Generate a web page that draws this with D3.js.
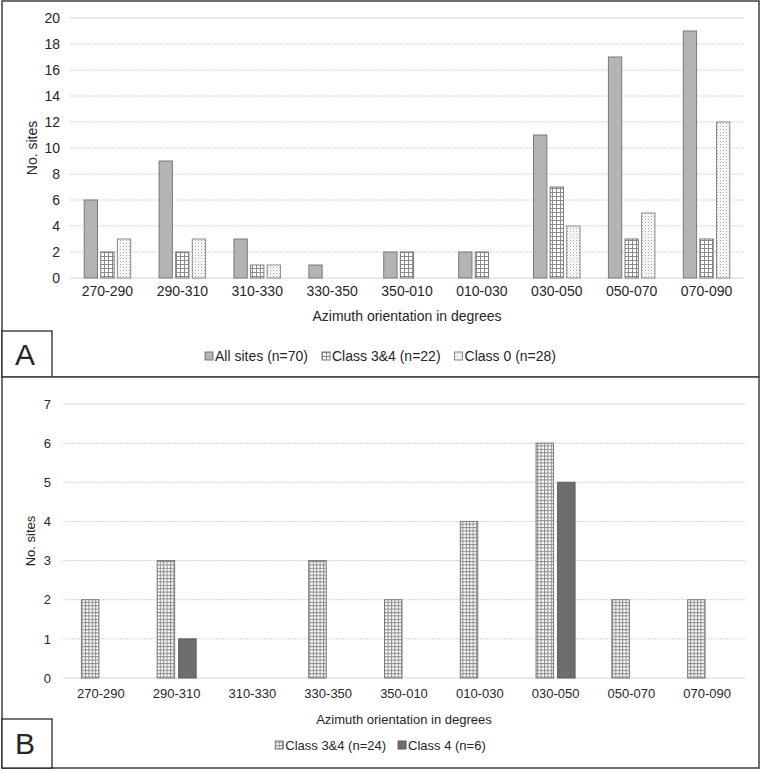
<!DOCTYPE html>
<html>
<head>
<meta charset="utf-8">
<script src="https://cdn.jsdelivr.net/npm/d3@7"></script>
<style>
  body { margin: 0; background: #fff; }
  text { font-family: "Liberation Sans", Arial, sans-serif; fill: #262626; }
</style>
</head>
<body>
<script>
var categories = ["270-290", "290-310", "310-330", "330-350", "350-010", "010-030", "030-050", "050-070", "070-090"];

// panel A
var allSites = [6, 9, 3, 1, 2, 2, 11, 17, 19];
var classA34 = [2, 2, 1, 0, 2, 2, 7, 3, 3];
var class0 = [3, 3, 1, 0, 0, 0, 4, 5, 12];
var namesA = ["All sites (n=70)", "Class 3&4 (n=22)", "Class 0 (n=28)"];
var ticksA = [0, 2, 4, 6, 8, 10, 12, 14, 16, 18, 20];

// panel B
var classB34 = [2, 3, 0, 3, 2, 4, 6, 2, 2];
var class4 = [0, 1, 0, 0, 0, 0, 5, 0, 0];
var namesB = ["Class 3&4 (n=24)", "Class 4 (n=6)"];
var ticksB = [0, 1, 2, 3, 4, 5, 6, 7];

var svg = d3.select("body").append("svg")
  .attr("width", 762).attr("height", 770);

var defs = svg.append("defs");

function gridPattern(id, size) {
  var p = defs.append("pattern").attr("id", id)
    .attr("patternUnits", "userSpaceOnUse")
    .attr("width", size).attr("height", size);
  p.append("rect").attr("width", size).attr("height", size).attr("fill", "#fff");
  p.append("path").attr("d", "M0,0.5H" + size + "M0.5,0V" + size)
    .attr("stroke", "#8c8c8c").attr("stroke-width", 1);
}
gridPattern("gridA", 4);
gridPattern("gridB", 3.4);

var dots = defs.append("pattern").attr("id", "dots")
  .attr("patternUnits", "userSpaceOnUse").attr("width", 3).attr("height", 3);
dots.append("rect").attr("width", 3).attr("height", 3).attr("fill", "#fff");
dots.append("rect").attr("x", 0).attr("y", 0).attr("width", 1).attr("height", 1).attr("fill", "#a6a6a6");
dots.append("rect").attr("x", 1.5).attr("y", 1.5).attr("width", 1).attr("height", 1).attr("fill", "#c4c4c4");

function drawPanel(opt) {
  var g = svg.append("g");

  g.append("rect").attr("x", opt.box[0]).attr("y", opt.box[1])
    .attr("width", opt.box[2] - opt.box[0]).attr("height", opt.box[3] - opt.box[1])
    .attr("fill", "#fff").attr("stroke", "#404040").attr("stroke-width", 1.5);

  var x = d3.scaleBand().domain(categories).range([opt.left, opt.right]);
  var y = d3.scaleLinear().domain([0, opt.max]).range([opt.bottom, opt.top]);

  // gridlines
  g.append("g").selectAll("line").data(opt.ticks).enter().append("line")
    .attr("x1", opt.left).attr("x2", opt.right)
    .attr("y1", function(d) { return y(d); }).attr("y2", function(d) { return y(d); })
    .attr("stroke", "#d4d4d4").attr("stroke-width", 1)
    .attr("stroke-dasharray", function(d) { return d == 0 || d == opt.max ? null : "2,1"; });

  var yAxis = d3.axisLeft(y).tickValues(opt.ticks).tickFormat(d3.format("d"))
    .tickSize(0).tickPadding(opt.ypad);
  var ya = g.append("g").attr("transform", "translate(" + opt.left + ",0)").call(yAxis);
  ya.select(".domain").remove();
  ya.selectAll("text").style("font-size", opt.fs + "px").attr("fill", "#262626")
    .attr("font-family", "Liberation Sans, Arial, sans-serif");

  var xAxis = d3.axisBottom(x).tickSize(0).tickPadding(opt.xpad);
  var xa = g.append("g").attr("transform", "translate(0," + opt.bottom + ")").call(xAxis);
  xa.select(".domain").remove();
  xa.selectAll("text").style("font-size", opt.fs + "px").attr("fill", "#262626")
    .attr("font-family", "Liberation Sans, Arial, sans-serif");

  // bars
  var n = opt.series.length;
  var groupW = n * opt.barW + (n - 1) * opt.gap;
  opt.series.forEach(function(s, i) {
    var rows = s.values.map(function(v, j) { return {c: categories[j], v: v}; })
      .filter(function(d) { return d.v > 0; });
    g.append("g").selectAll("rect").data(rows)
      .enter().append("rect")
      .attr("x", function(d) { return x(d.c) + x.bandwidth() / 2 - groupW / 2 + i * (opt.barW + opt.gap); })
      .attr("y", function(d) { return y(d.v); })
      .attr("width", opt.barW)
      .attr("height", function(d) { return y(0) - y(d.v); })
      .attr("fill", s.fill).attr("stroke", s.stroke).attr("stroke-width", 1);
  });

  // y title
  g.append("text")
    .attr("transform", "translate(" + opt.ytitleX + "," + ((opt.top + opt.bottom) / 2) + ") rotate(-90)")
    .attr("text-anchor", "middle").attr("dy", "0.35em")
    .style("font-size", opt.fs + "px").text("No. sites");

  // x title
  g.append("text").attr("x", (opt.left + opt.right) / 2).attr("y", opt.xtitleY)
    .attr("text-anchor", "middle").attr("dy", "0.35em")
    .style("font-size", opt.fs + "px").text("Azimuth orientation in degrees");

  // legend, centred on the panel
  var lg = g.append("g");
  var cx = 0;
  opt.series.forEach(function(s) {
    var it = lg.append("g").attr("transform", "translate(" + cx + ",0)");
    it.append("rect").attr("x", 0).attr("y", -4).attr("width", 8).attr("height", 8)
      .attr("fill", s.fill).attr("stroke", s.stroke).attr("stroke-width", 1);
    var t = it.append("text").attr("x", 10).attr("dy", "0.35em")
      .style("font-size", opt.fs + "px").text(s.name);
    cx += 10 + t.node().getComputedTextLength() + opt.legGap;
  });
  var legW = cx - opt.legGap;
  lg.attr("transform", "translate(" + ((opt.box[0] + opt.box[2]) / 2 - legW / 2) + "," + opt.legY + ")");

  // letter box
  g.append("rect").attr("x", opt.box[0]).attr("y", opt.letterBox[0])
    .attr("width", 50).attr("height", opt.letterBox[1] - opt.letterBox[0])
    .attr("fill", "#fff").attr("stroke", "#1a1a1a").attr("stroke-width", 1.2);
  g.append("text").attr("x", opt.box[0] + 23).attr("y", (opt.letterBox[0] + opt.letterBox[1]) / 2)
    .attr("text-anchor", "middle").attr("dy", "0.36em")
    .style("font-size", "30px").attr("fill", "#111").text(opt.letter);
}

drawPanel({
  box: [2, 1, 759, 377],
  left: 70, right: 744, top: 18, bottom: 278,
  max: 20, ticks: ticksA, fs: 14, xpad: 8, ypad: 10,
  barW: 13.3, gap: 3.3,
  ytitleX: 32, xtitleY: 316, legY: 356, legGap: 14,
  letterBox: [331, 377], letter: "A",
  series: [
    {name: namesA[0], values: allSites, fill: "#b4b4b4", stroke: "#7a7a7a"},
    {name: namesA[1], values: classA34, fill: "url(#gridA)", stroke: "#7a7a7a"},
    {name: namesA[2], values: class0, fill: "url(#dots)", stroke: "#8a8a8a"}
  ]
});

drawPanel({
  box: [2, 377, 759, 768],
  left: 63, right: 745, top: 404, bottom: 678,
  max: 7, ticks: ticksB, fs: 13, xpad: 11, ypad: 12,
  barW: 17.5, gap: 4,
  ytitleX: 30, xtitleY: 719, legY: 745, legGap: 12,
  letterBox: [719, 768], letter: "B",
  series: [
    {name: namesB[0], values: classB34, fill: "url(#gridB)", stroke: "#7a7a7a"},
    {name: namesB[1], values: class4, fill: "#6e6e6e", stroke: "#5e5e5e"}
  ]
});
</script>
</body>
</html>
